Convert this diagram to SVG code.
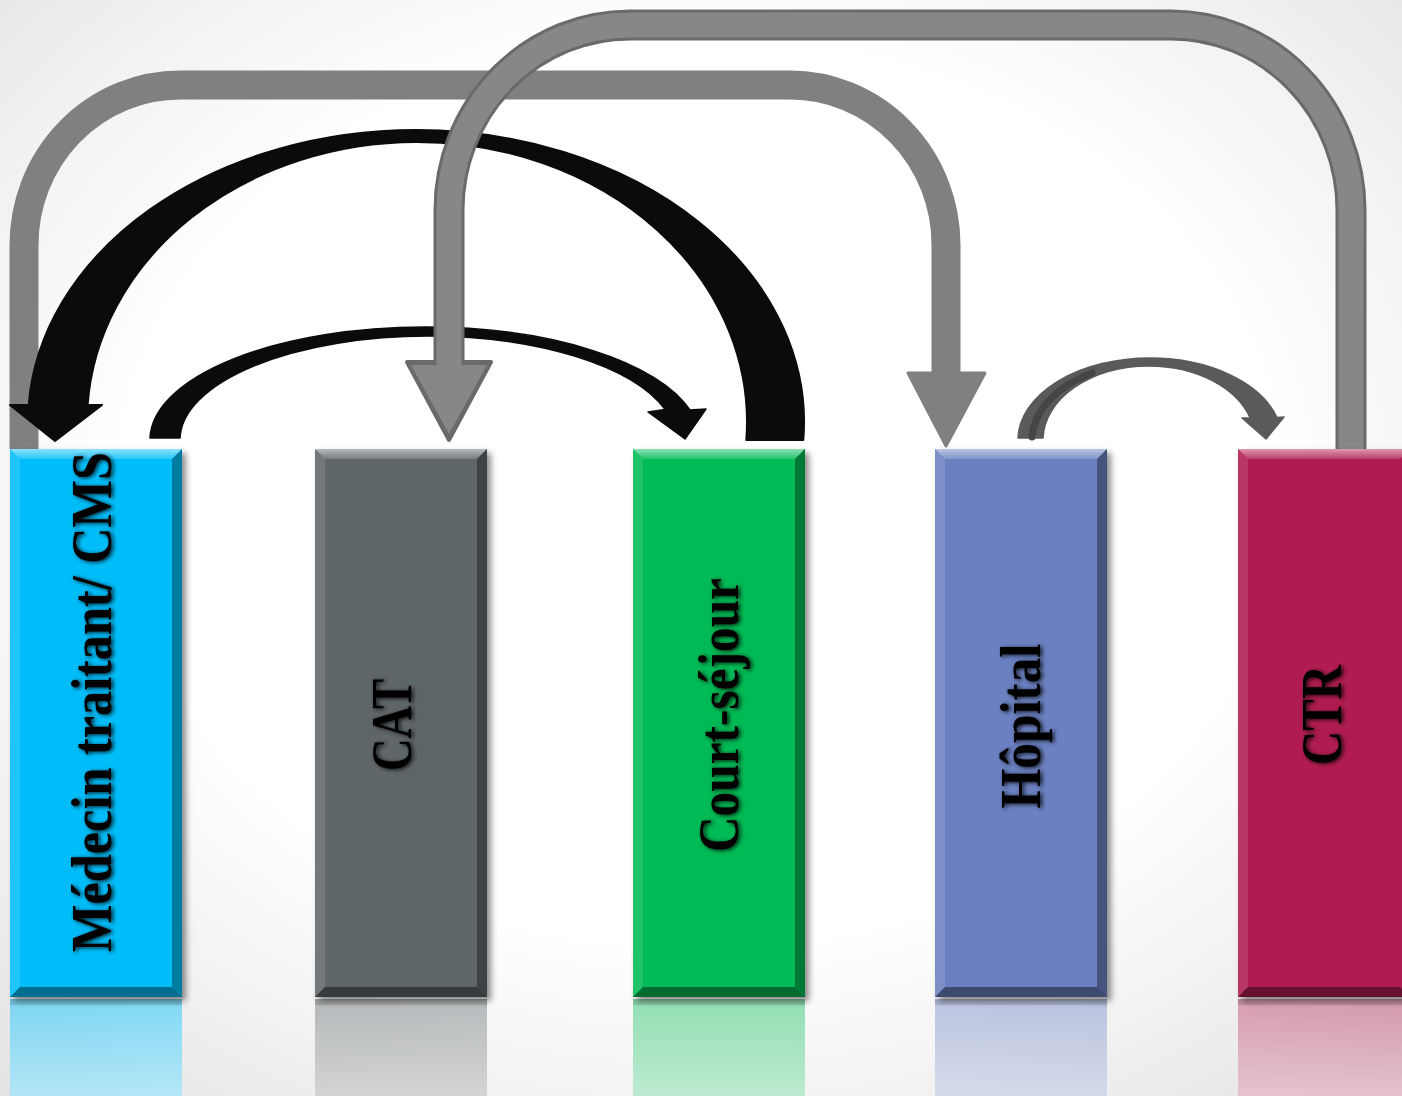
<svg xmlns="http://www.w3.org/2000/svg" width="1402" height="1096" viewBox="0 0 1402 1096">
  <defs>
    <radialGradient id="bg" cx="50%" cy="45%" r="75%">
      <stop offset="0.55" stop-color="#ffffff"/>
      <stop offset="1" stop-color="#e2e2e2"/>
    </radialGradient>
    <linearGradient id="topBevel" x1="0" y1="0" x2="0" y2="1">
      <stop offset="0" stop-color="#ffffff" stop-opacity="0.55"/>
      <stop offset="1" stop-color="#ffffff" stop-opacity="0.15"/>
    </linearGradient>
    <linearGradient id="reflectFade" x1="0" y1="0" x2="0" y2="1">
      <stop offset="0" stop-color="#fff" stop-opacity="0.05"/>
      <stop offset="1" stop-color="#fff" stop-opacity="0.45"/>
    </linearGradient>
    <filter id="barShadow" x="-10%" y="-5%" width="125%" height="115%">
      <feDropShadow dx="4" dy="4" stdDeviation="3" flood-color="#000" flood-opacity="0.45"/>
    </filter>
    <filter id="textShadow" x="-20%" y="-20%" width="140%" height="140%">
      <feGaussianBlur in="SourceAlpha" stdDeviation="2.2"/>
      <feOffset dx="1.5" dy="1" result="blur"/>
      <feComponentTransfer in="blur" result="shade">
        <feFuncA type="linear" slope="0.85"/>
      </feComponentTransfer>
      <feMerge>
        <feMergeNode in="shade"/>
        <feMergeNode in="SourceGraphic"/>
      </feMerge>
    </filter>
    <style>
      .label { font-family: "Liberation Serif", "Times New Roman", serif; font-weight: bold; font-size: 56px; fill: #000; text-anchor: middle; }
      .hl { fill: url(#topBevel); }
      .lt { fill: #ffffff; fill-opacity: 0.12; }
      .dk-r { fill: #000; fill-opacity: 0.35; }
      .dk-b { fill: #000; fill-opacity: 0.42; }
      .fade { fill: url(#reflectFade); }
      .band { fill: none; stroke: #808080; stroke-width: 29; }
      .band-edge { fill: none; stroke: #6a6a6a; stroke-width: 31; }
      .band-core { fill: none; stroke: #878787; stroke-width: 25; }
    </style>
  </defs>

  <!-- backdrop -->
  <rect width="1402" height="1096" fill="url(#bg)"/>

  <g id="connectors">
    <!-- Médecin traitant → Hôpital (wide grey loop) -->
    <path class="band" d="M24 449 L24 245 A156 160 0 0 1 180 85 L790 85 A156 160 0 0 1 946 245 L946 376"/>
    <polygon points="908,373 985,373 946,446" fill="#808080" stroke="#808080" stroke-width="3" stroke-linejoin="round"/>

    <!-- Court-séjour → Médecin traitant (heavy black curved arrow, thin at the crest) -->
    <path d="M28.7 405 A388 292 0 0 1 416 130 A388 292 0 0 1 803.3 440 L746.3 440 A330 280 0 0 0 417 142 A330 280 0 0 0 87.6 405 L102 405 L55 441 L10 405 Z" fill="#0b0b0b" stroke="#0b0b0b" stroke-width="2" stroke-linejoin="round"/>

    <!-- Médecin traitant → Court-séjour (thin black curved arrow) -->
    <path d="M150 438 A275 113 0 0 1 425 327 A275 113 0 0 1 690 410 L706 409 L685 439 L648 412 L665 409.4 A248 104 0 0 0 428 336 A248 104 0 0 0 180 438 Z" fill="#0b0b0b" stroke="#0b0b0b" stroke-width="1.5" stroke-linejoin="round"/>

    <!-- CTR → CAT (outlined grey loop) -->
    <path class="band-edge" d="M1351 449 L1351 210 A180 185 0 0 0 1171 25 L630 25 A181 185 0 0 0 449 210 L449 364"/>
    <polygon points="407,362 491,362 449,440" fill="#6a6a6a" stroke="#6a6a6a" stroke-width="4" stroke-linejoin="round"/>
    <path class="band-core" d="M1351 449 L1351 210 A180 185 0 0 0 1171 25 L630 25 A181 185 0 0 0 449 210 L449 368"/>
    <polygon points="411,365 487,365 449,434" fill="#878787"/>

    <!-- Hôpital → CTR (small dark grey curved arrow) -->
    <path d="M1018 438 A132 82 0 0 1 1150 358 A132 82 0 0 1 1277 417.6 L1284 417 L1266 439 L1242 418 L1250.2 418 A106 74 0 0 0 1149 366 A106 74 0 0 0 1043 438 Z" fill="#5a5a5a" stroke="#5a5a5a" stroke-width="1.5" stroke-linejoin="round"/>
    <path d="M1032 437 A117 78 0 0 1 1092 373" fill="none" stroke="#454545" stroke-width="7" stroke-linecap="round"/>
  </g>

  <!-- Médecin traitant / CMS -->
  <g id="node-medecin">
    <rect x="10" y="999" width="172" height="97" fill="#06bdf9" fill-opacity="0.5"/>
    <rect x="10" y="999" width="172" height="97" class="fade"/>
    <rect x="10" y="999" width="172" height="6" fill="#000" fill-opacity="0.12"/>
    <g filter="url(#barShadow)">
      <rect x="10" y="449" width="172" height="548" fill="#06bdf9"/>
    </g>
    <polygon class="hl" points="10,449 182,449 172,459 20,459"/>
    <polygon class="lt" points="10,449 20,459 20,987 10,997"/>
    <polygon class="dk-r" points="182,449 182,997 172,987 172,459"/>
    <polygon class="dk-b" points="10,997 182,997 172,987 20,987"/>
    <g filter="url(#textShadow)">
      <text class="label" transform="translate(111 702) rotate(-90)" textLength="500" lengthAdjust="spacingAndGlyphs">Médecin traitant/ CMS</text>
    </g>
  </g>

  <!-- CAT -->
  <g id="node-cat">
    <rect x="315" y="999" width="172" height="97" fill="#5f666b" fill-opacity="0.45"/>
    <rect x="315" y="999" width="172" height="97" class="fade"/>
    <rect x="315" y="999" width="172" height="6" fill="#000" fill-opacity="0.12"/>
    <g filter="url(#barShadow)">
      <rect x="315" y="449" width="172" height="548" fill="#5f666b"/>
    </g>
    <polygon class="hl" points="315,449 487,449 477,459 325,459"/>
    <polygon class="lt" points="315,449 325,459 325,987 315,997"/>
    <polygon class="dk-r" points="487,449 487,997 477,987 477,459"/>
    <polygon class="dk-b" points="315,997 487,997 477,987 325,987"/>
    <g filter="url(#textShadow)">
      <text class="label" transform="translate(411 725) rotate(-90)" textLength="92" lengthAdjust="spacingAndGlyphs">CAT</text>
    </g>
  </g>

  <!-- Court-séjour -->
  <g id="node-court-sejour">
    <rect x="633" y="999" width="172" height="97" fill="#06ba55" fill-opacity="0.45"/>
    <rect x="633" y="999" width="172" height="97" class="fade"/>
    <rect x="633" y="999" width="172" height="6" fill="#000" fill-opacity="0.12"/>
    <g filter="url(#barShadow)">
      <rect x="633" y="449" width="172" height="548" fill="#06ba55"/>
    </g>
    <polygon class="hl" points="633,449 805,449 795,459 643,459"/>
    <polygon class="lt" points="633,449 643,459 643,987 633,997"/>
    <polygon class="dk-r" points="805,449 805,997 795,987 795,459"/>
    <polygon class="dk-b" points="633,997 805,997 795,987 643,987"/>
    <g filter="url(#textShadow)">
      <text class="label" transform="translate(738 715) rotate(-90)" textLength="274" lengthAdjust="spacingAndGlyphs">Court-séjour</text>
    </g>
  </g>

  <!-- Hôpital -->
  <g id="node-hopital">
    <rect x="935" y="999" width="172" height="97" fill="#6a80c0" fill-opacity="0.45"/>
    <rect x="935" y="999" width="172" height="97" class="fade"/>
    <rect x="935" y="999" width="172" height="6" fill="#000" fill-opacity="0.12"/>
    <g filter="url(#barShadow)">
      <rect x="935" y="449" width="172" height="548" fill="#6a80c0"/>
    </g>
    <polygon class="hl" points="935,449 1107,449 1097,459 945,459"/>
    <polygon class="lt" points="935,449 945,459 945,987 935,997"/>
    <polygon class="dk-r" points="1107,449 1107,997 1097,987 1097,459"/>
    <polygon class="dk-b" points="935,997 1107,997 1097,987 945,987"/>
    <g filter="url(#textShadow)">
      <text class="label" transform="translate(1040 726) rotate(-90)" textLength="165" lengthAdjust="spacingAndGlyphs">Hôpital</text>
    </g>
  </g>

  <!-- CTR -->
  <g id="node-ctr">
    <rect x="1238" y="999" width="172" height="97" fill="#b01f51" fill-opacity="0.42"/>
    <rect x="1238" y="999" width="172" height="97" class="fade"/>
    <rect x="1238" y="999" width="172" height="6" fill="#000" fill-opacity="0.12"/>
    <g filter="url(#barShadow)">
      <rect x="1238" y="449" width="172" height="548" fill="#b01f51"/>
    </g>
    <polygon class="hl" points="1238,449 1410,449 1400,459 1248,459"/>
    <polygon class="lt" points="1238,449 1248,459 1248,987 1238,997"/>
    <polygon class="dk-b" points="1238,997 1410,997 1400,987 1248,987"/>
    <g filter="url(#textShadow)">
      <text class="label" transform="translate(1341 715) rotate(-90)" textLength="100" lengthAdjust="spacingAndGlyphs">CTR</text>
    </g>
  </g>
</svg>
